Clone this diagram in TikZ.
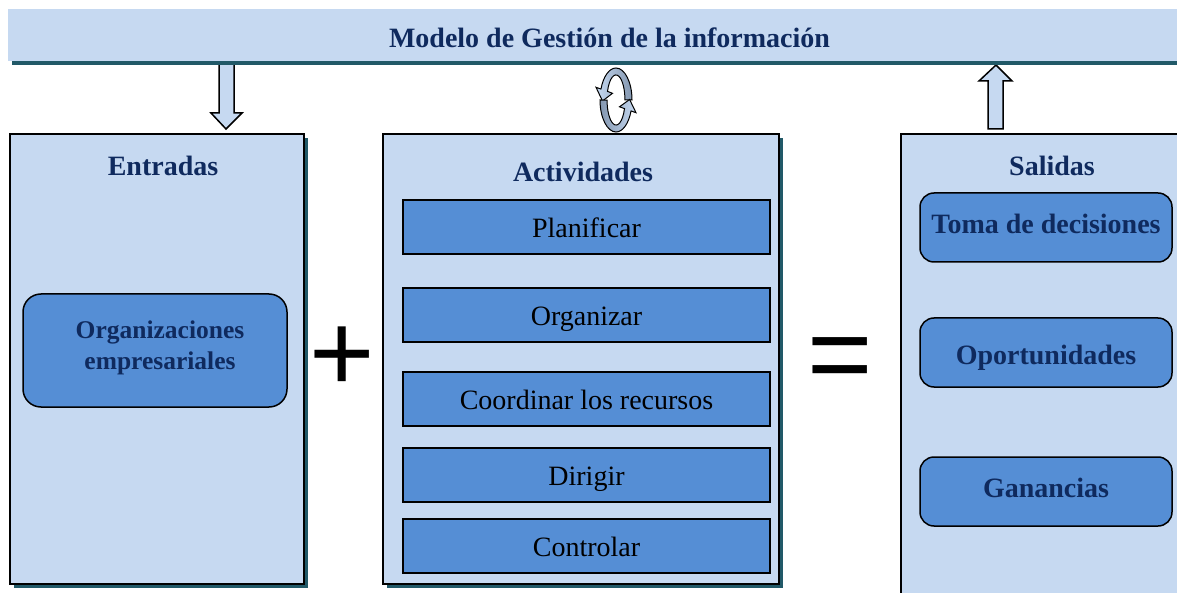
\documentclass[tikz,border=0pt]{standalone}
\usepackage{fontspec}
\setmainfont{Liberation Serif}
\newfontfamily\signfont{Liberation Sans}
\usetikzlibrary{shadows}

\definecolor{boxfill}{HTML}{C6D9F1}
\definecolor{itemfill}{HTML}{558ED5}
\definecolor{shadowteal}{HTML}{215968}
\definecolor{titlenavy}{HTML}{0F2A5E}
\definecolor{loopgrey}{HTML}{8497B0}

\begin{document}
\begin{tikzpicture}[x=1pt,y=-1pt,line join=miter,
  tealshadow/.style={drop shadow={shadow xshift=4pt,shadow yshift=-4pt,fill=shadowteal,opacity=1}},
  panel/.style={draw=black,line width=2pt,fill=boxfill,inner sep=0pt,tealshadow},
  paneltitle/.style={font=\fontsize{28}{32}\selectfont\bfseries,text=titlenavy,inner sep=0pt},
  task/.style={draw=black,line width=1.5pt,fill=itemfill,minimum width=367pt,minimum height=54pt,
    inner sep=0pt,text height=22pt,text depth=1pt,font=\fontsize{28}{32}\selectfont},
  result/.style={draw=black,line width=1.5pt,fill=itemfill,rounded corners=14pt,minimum width=252pt,
    minimum height=69pt,inner sep=0pt,text height=18pt,text depth=5.6pt,
    font=\fontsize{28}{32}\selectfont\bfseries,text=titlenavy},
  blockarrow/.style={draw=black,line width=1.5pt,fill=boxfill},
  loop/.style={draw=black,line width=1pt},
  sign/.style={font=\signfont\fontsize{112}{112}\selectfont,inner sep=0pt,anchor=base}]
  % page frame
  \clip (0,0) rectangle (1177,593);
  \fill[white] (0,0) rectangle (1177,593);

  % block arrows between the header and the panels
  \coordinate (inTip) at (226,129);
  \coordinate (outTip) at (996,65);
  \draw[blockarrow] (inTip) -- ++(-15,-16) -- ++(8,0) -- ++(0,-60) -- ++(15,0) -- ++(0,60) -- ++(8,0) -- cycle;
  \draw[blockarrow] (outTip) -- ++(-17,16) -- ++(9,0) -- ++(0,48) -- ++(15,0) -- ++(0,-48) -- ++(9,0) -- cycle;

  % header bar
  \node[fill=boxfill,inner sep=0pt,minimum width=1203pt,minimum height=52pt,tealshadow,
    text height=26pt,text depth=0pt,font=\fontsize{28}{32}\selectfont\bfseries,text=titlenavy]
    (header) at (609.5,35) {Modelo de Gestión de la información};

  % the loop over Actividades
  \shadedraw[loop,left color=boxfill,right color=loopgrey]
    (632,100) arc[start angle=360,end angle=200,x radius=16,y radius=32]
    -- (596,87.3) -- (602.5,101) -- (612.5,93.3) -- (607.5,91.4)
    arc[start angle=200,end angle=360,x radius=9,y radius=25] -- cycle;
  \shadedraw[loop,left color=loopgrey,right color=boxfill]
    (600,100) arc[start angle=180,end angle=20,x radius=16,y radius=32]
    -- (636,112.7) -- (629.6,99.5) -- (619.5,106.8) -- (624.5,108.6)
    arc[start angle=20,end angle=180,x radius=9,y radius=25] -- cycle;

  % Entradas
  \node[panel,minimum width=294pt,minimum height=450pt] (entradas) at (157,359) {};
  \node[paneltitle] (entradasTitle) at (163,166) {Entradas};
  \node[result,minimum width=264pt,minimum height=113pt,rounded corners=18pt,align=center,
    text height=,text depth=11.6pt,font=\fontsize{25.5}{31}\selectfont\bfseries] (orgs) at (155,350.5)
    {\hspace*{10pt}Organizaciones\\\hspace*{10pt}empresariales};

  % Actividades
  \node[panel,minimum width=396pt,minimum height=450pt] (actividades) at (581,359) {};
  \node[paneltitle] (actividadesTitle) at (583,172) {Actividades};
  \foreach \y/\name/\txt in {227/plan/Planificar, 315/organ/Organizar, 399/coord/Coordinar los recursos,
      475/dir/Dirigir, 546/ctrl/Controlar}
    \node[task] (\name) at (586.5,\y) {\txt};

  % Salidas
  \node[panel,minimum width=289pt,minimum height=476pt] (salidas) at (1045.5,372) {};
  \node[paneltitle] (salidasTitle) at (1052,166) {Salidas};
  \node[result] (toma) at (1046,227.5) {Toma de decisiones};
  \node[result,text height=24pt,text depth=-0.4pt] (oport) at (1046,352.5) {Oportunidades};
  \node[result] (gan) at (1046,491.5) {Ganancias};

  % plus and equals
  \node[sign] (plus) at (342,391) {+};
  \node[sign] (equals) at (840.5,392) {=};
\end{tikzpicture}
\end{document}
